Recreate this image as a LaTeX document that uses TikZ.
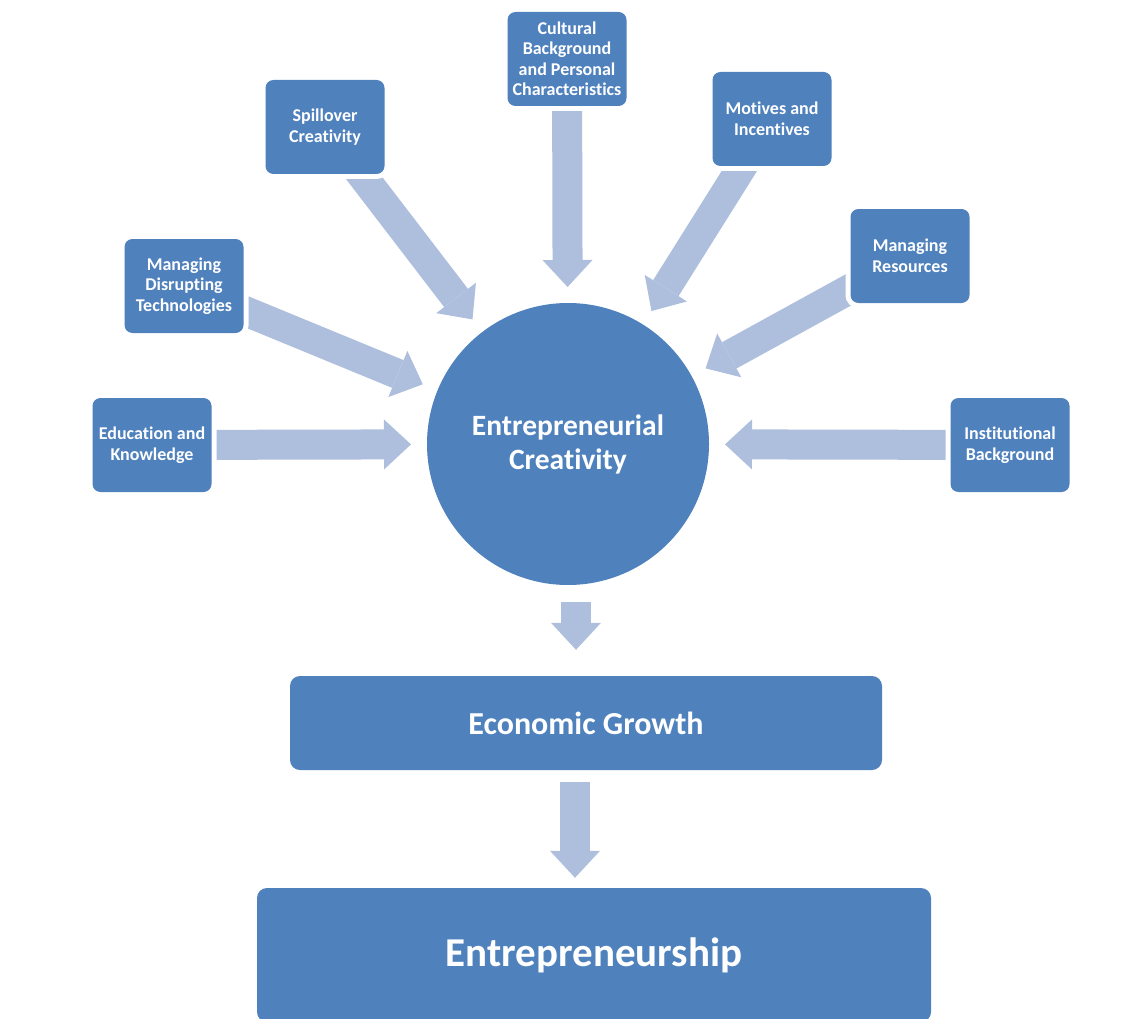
\documentclass[tikz,border=0pt]{standalone}
\usepackage{fontspec}
\setmainfont{Carlito}[Ligatures=NoCommon]
\usetikzlibrary{arrows.meta,calc,backgrounds}
\definecolor{boxblue}{RGB}{79,129,189}
\definecolor{arrowblue}{RGB}{174,191,222}
\tikzset{
	factor/.style={rectangle, rounded corners=8pt, fill=boxblue, text=white, align=center, minimum width=119pt, minimum height=94pt, inner sep=1pt, font=\bfseries\fontsize{18}{20.5}\selectfont, preaction={draw=white, line width=10pt}},
	stage/.style={factor, rounded corners=10pt},
	blockarrow/.style={draw=arrowblue, line width=30pt, -{Triangle[width=50pt, length=27pt, line width=0pt]}},
}
\begin{document}
\begin{tikzpicture}[x=1pt, y=-1pt]
	\useasboundingbox (0,0) rectangle (1145,1019);
	\node[circle, fill=boxblue, text=white, minimum size=282pt, align=center, font=\bfseries\fontsize{29.5}{34}\selectfont] (ec) at (568,444) {Entrepreneurial\\Creativity};
	\node[factor] (edu) at (152,445) {Education and\\Knowledge};
	\node[factor] (disrupt) at (184,286) {Managing\\Disrupting\\Technologies};
	\node[factor] (spill) at (325,127) {Spillover\\Creativity};
	\node[factor] (culture) at (567,59) {Cultural\\Background\\and Personal\\Characteristics};
	\node[factor] (motive) at (772,119) {Motives and\\Incentives};
	\node[factor] (resource) at (910,256) {Managing\\Resources};
	\node[factor] (inst) at (1010,445) {Institutional\\Background};
	\node[stage, minimum width=592pt, minimum height=94pt, font=\bfseries\fontsize{32}{38}\selectfont] (eg) at (586,723) {Economic Growth};
	\node[stage, minimum width=674pt, minimum height=134pt, font=\bfseries\fontsize{41}{49}\selectfont] (ent) at (594,955) {Entrepreneurship};
	\begin{scope}[on background layer]
		\foreach \f in {edu,disrupt,spill,culture,motive,resource,inst}
			\draw[blockarrow] (\f.center) -- ($(ec.center)!157pt!(\f.center)$);
	\end{scope}
	\draw[blockarrow, shorten <=17pt, shorten >=26pt] ([xshift=8pt]ec.south) -- ([xshift=8pt]ec.south |- eg.north);
	\draw[blockarrow, shorten <=12pt, shorten >=10pt] ([xshift=-11pt]eg.south) -- ([xshift=-11pt]eg.south |- ent.north);
\end{tikzpicture}
\end{document}
